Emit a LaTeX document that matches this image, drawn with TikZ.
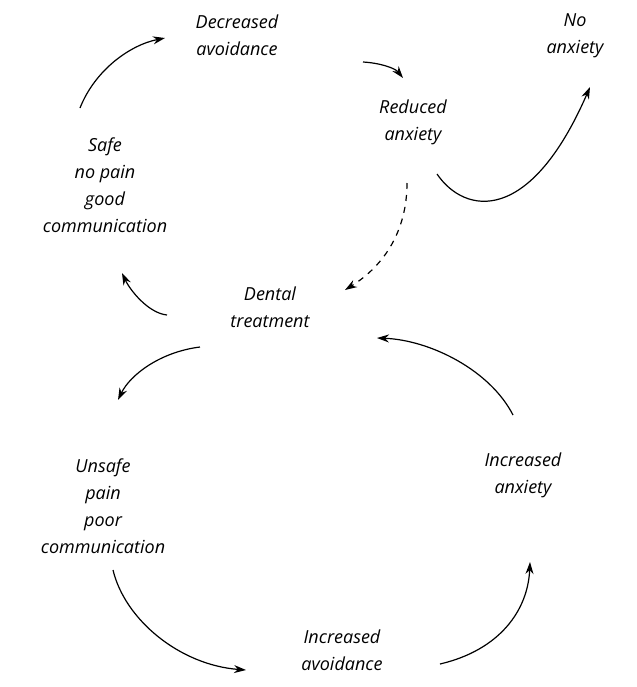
\documentclass[tikz,border=0pt]{standalone}
\usepackage{fontspec}
\setmainfont{Open Sans}
\usetikzlibrary{arrows.meta}
\tikzset{
    stage/.style={
        align=center,
        inner sep=0pt,
        font=\itshape\fontsize{9}{13.5}\selectfont
    },
    link/.style={
        -{Stealth[length=6pt,width=4pt]},
        line width=0.6pt
    },
    maybe/.style={
        link,
        dashed
    }
}

\begin{document}
\begin{tikzpicture}[x=0.5pt,y=-0.5pt]
\useasboundingbox (0,0) rectangle (637,687);

% stages
\node[stage] (decav) at (237,35) {Decreased\\avoidance};
\node[stage] (noanx) at (575,36) {No\\anxiety};
\node[stage] (redanx) at (413,122) {Reduced\\anxiety};
\node[stage] (safe) at (105,185) {Safe\\no pain\\good\\communication};
\node[stage] (dental) at (270,307) {Dental\\treatment};
\node[stage] (unsafe) at (103,506) {Unsafe\\pain\\poor\\communication};
\node[stage] (incanx) at (523,475) {Increased\\anxiety};
\node[stage] (incav) at (342,650) {Increased\\avoidance};

% arrow ends
\coordinate (safe-out) at (80,108);
\coordinate (decav-in) at (165,38);
\coordinate (decav-out) at (363,62);
\coordinate (redanx-in) at (403,78);
\coordinate (redanx-out) at (437,174);
\coordinate (redanx-dash) at (407,183);
\coordinate (noanx-in) at (590,87);
\coordinate (dental-dash) at (345,290);
\coordinate (dental-up) at (167,315);
\coordinate (safe-in) at (122,273);
\coordinate (dental-down) at (200,347);
\coordinate (unsafe-in) at (118,400);
\coordinate (unsafe-out) at (113,570);
\coordinate (incav-in) at (246,670);
\coordinate (incav-out) at (440,664);
\coordinate (incanx-in) at (530,562);
\coordinate (incanx-out) at (513,415);
\coordinate (dental-in) at (377,338);

% good cycle
\draw[link] (safe-out) .. controls (95,70) and (130,45) .. (decav-in);
\draw[link] (decav-out) .. controls (380,63) and (395,68) .. (redanx-in);
\draw[link] (redanx-out) .. controls (465,215) and (530,225) .. (noanx-in);
\draw[maybe] (redanx-dash) .. controls (407,230) and (385,265) .. (dental-dash);
\draw[link] (dental-up) .. controls (148,313) and (130,290) .. (safe-in);

% bad cycle
\draw[link] (dental-down) .. controls (160,352) and (130,375) .. (unsafe-in);
\draw[link] (unsafe-out) .. controls (125,620) and (180,665) .. (incav-in);
\draw[link] (incav-out) .. controls (500,650) and (528,610) .. (incanx-in);
\draw[link] (incanx-out) .. controls (490,370) and (430,340) .. (dental-in);

\end{tikzpicture}
\end{document}
